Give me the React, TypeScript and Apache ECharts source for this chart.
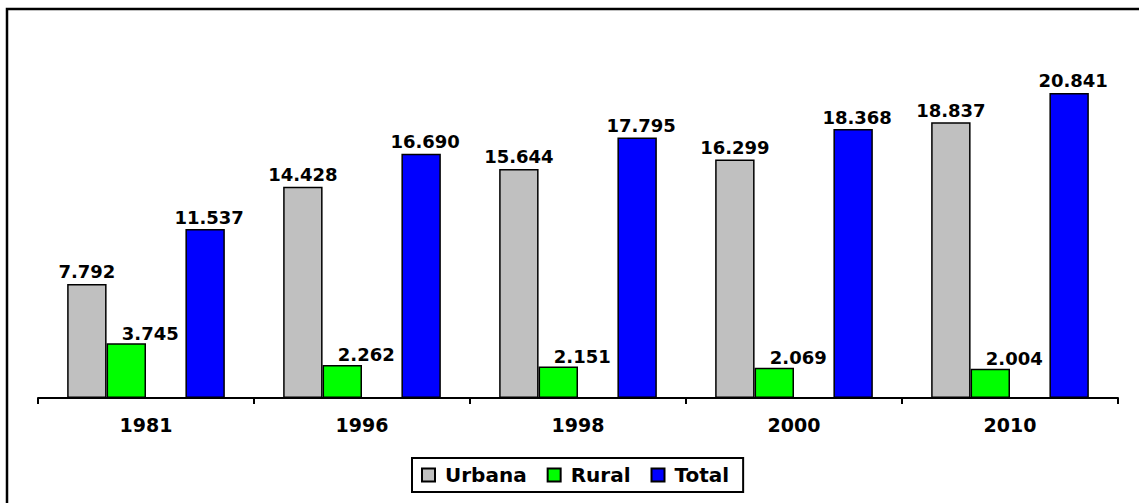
import React, { useEffect, useRef } from "react";
import * as echarts from "echarts";

const categories = ["1981", "1996", "1998", "2000", "2010"];
const urbana = [7.792, 14.428, 15.644, 16.299, 18.837];
const rural = [3.745, 2.262, 2.151, 2.069, 2.004];
const total = [11.537, 16.69, 17.795, 18.368, 20.841];
const blank = [null, null, null, null, null];

const FONT = "DejaVu Sans";

export default function App() {
  const ref = useRef<HTMLDivElement>(null);
  useEffect(() => {
    if (!ref.current) return;
    const chart = echarts.init(ref.current, undefined, { renderer: "svg" });
    const fmt = (p: any) => Number(p.value).toFixed(3);
    const labelBase = {
      show: true,
      position: "top" as const,
      distance: 3,
      fontFamily: FONT,
      fontWeight: "bold" as const,
      fontSize: 18,
      color: "#000",
      formatter: fmt,
    };
    const border = { borderColor: "#000", borderWidth: 1.5 };
    chart.setOption({
      animation: false,
      backgroundColor: "#fff",
      graphic: [
        {
          type: "rect",
          shape: { x: 7, y: 9, width: 1200, height: 600 },
          style: { fill: "none", stroke: "#000", lineWidth: 2.5 },
          silent: true,
        },
      ],
      grid: { left: 38, right: 21, top: 32, bottom: 105, containLabel: false },
      legend: {
        data: ["Urbana", "Rural", "Total"],
        left: 412,
        top: 458,
        padding: [7, 14, 7, 9],
        borderColor: "#000",
        borderWidth: 2,
        itemWidth: 13,
        itemHeight: 13,
        itemGap: 20,
        icon: "rect",
        textStyle: {
          fontFamily: FONT,
          fontWeight: "bold",
          fontSize: 20,
          color: "#000",
          padding: [0, 0, 0, 5],
        },
      },
      xAxis: {
        type: "category",
        data: categories,
        boundaryGap: true,
        axisLine: { lineStyle: { color: "#000", width: 2 } },
        axisTick: { show: true, length: 6, lineStyle: { color: "#000", width: 2 } },
        axisLabel: {
          fontFamily: FONT,
          fontWeight: "bold",
          fontSize: 19,
          color: "#000",
          margin: 17,
        },
      },
      yAxis: {
        type: "value",
        min: 0,
        max: 25,
        show: false,
        splitLine: { show: false },
      },
      series: [
        {
          name: "Urbana",
          type: "bar",
          data: urbana,
          barGap: "0%",
          barCategoryGap: "27%",
          itemStyle: { color: "#C0C0C0", ...border },
          label: { ...labelBase },
        },
        {
          name: "Rural",
          type: "bar",
          data: rural,
          itemStyle: { color: "#00FF00", ...border },
          label: { ...labelBase, offset: [24, 2] },
        },
        {
          name: "",
          type: "bar",
          data: blank,
          itemStyle: { color: "transparent" },
        },
        {
          name: "Total",
          type: "bar",
          data: total,
          itemStyle: { color: "#0000FF", ...border },
          label: { ...labelBase, offset: [4, 0] },
        },
      ],
    });
    return () => chart.dispose();
  }, []);
  return (
    <div
      ref={ref}
      style={{ position: "fixed", left: 0, top: 0, width: 1139, height: 503 }}
    />
  );
}
